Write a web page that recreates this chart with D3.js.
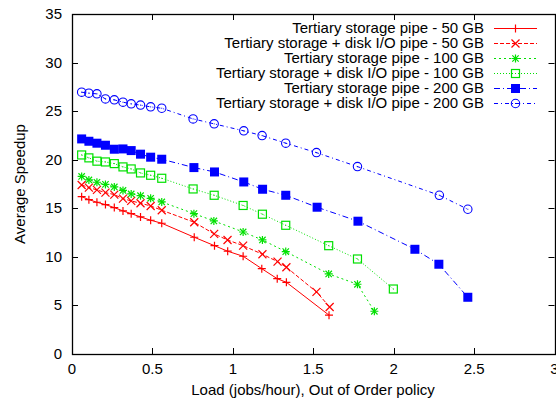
<!DOCTYPE html>
<html>
<head>
<meta charset="utf-8">
<script src="https://cdn.jsdelivr.net/npm/d3@7"></script>
<style>
  body { margin: 0; background: #fff; }
  svg { font-family: "Liberation Sans", Arial, sans-serif; }
</style>
</head>
<body>
<div id="chart"></div>
<script>
// series names
var names = [
  'Tertiary storage pipe - 50 GB',
  'Tertiary storage + disk I/O pipe - 50 GB',
  'Tertiary storage pipe - 100 GB',
  'Tertiary storage + disk I/O pipe - 100 GB',
  'Tertiary storage pipe - 200 GB',
  'Tertiary storage + disk I/O pipe - 200 GB'
];

var loadsEarly = [0.06, 0.105, 0.155, 0.208, 0.263, 0.317, 0.368, 0.426, 0.489, 0.558];

var tp50x  = loadsEarly.concat([0.76, 0.886, 0.968, 1.064, 1.18, 1.276, 1.333, 1.598]);
var tp50y  = [16.2, 15.89, 15.62, 15.38, 15.07, 14.73, 14.45, 14.11, 13.77, 13.46,
              12.02, 11.15, 10.58, 10.06, 8.78, 7.75, 7.38, 4.0];

var dk50x  = loadsEarly.concat([0.76, 0.884, 0.967, 1.064, 1.184, 1.278, 1.333, 1.52, 1.602]);
var dk50y  = [17.4, 17.13, 16.89, 16.61, 16.41, 15.99, 15.76, 15.52, 15.24, 14.8,
              13.56, 12.36, 11.74, 11.15, 10.27, 9.51, 8.93, 6.39, 4.84];

var tp100x = loadsEarly.concat([0.758, 0.882, 1.064, 1.184, 1.329, 1.596, 1.775, 1.88]);
var tp100y = [18.28, 17.92, 17.68, 17.46, 17.2, 16.84, 16.48, 16.3, 16.03, 15.65,
              14.45, 13.7, 12.56, 11.74, 10.54, 8.24, 7.18, 4.4];

var dk100x = loadsEarly.concat([0.753, 0.884, 1.064, 1.184, 1.329, 1.596, 1.775, 1.998]);
var dk100y = [20.49, 20.19, 19.85, 19.77, 19.6, 19.26, 19.05, 18.64, 18.4, 18.09,
              16.99, 16.34, 15.29, 14.39, 13.25, 11.15, 9.78, 6.69];

var tp200x = loadsEarly.concat([0.758, 0.886, 1.068, 1.185, 1.329, 1.524, 1.778, 2.132, 2.281, 2.461]);
var tp200y = [22.14, 21.9, 21.7, 21.49, 21.08, 21.11, 20.94, 20.57, 20.26, 20.05,
              19.19, 18.74, 17.71, 16.96, 16.34, 15.11, 13.67, 10.78, 9.24, 5.84];

var dk200x = loadsEarly.concat([0.753, 0.884, 1.068, 1.182, 1.329, 1.52, 1.775, 2.284, 2.461]);
var dk200y = [26.95, 26.85, 26.78, 26.26, 26.16, 25.92, 25.75, 25.62, 25.44, 25.3,
              24.2, 23.69, 22.97, 22.48, 21.7, 20.73, 19.29, 16.34, 14.9];

var xTicks = [0, 0.5, 1, 1.5, 2, 2.5, 3];
var yTicks = [0, 5, 10, 15, 20, 25, 30, 35];

var styles = [
  {color: '#ff0000', dash: null,       mark: 'plus'},
  {color: '#ff0000', dash: '4,2',      mark: 'cross'},
  {color: '#00e000', dash: '2,3',      mark: 'star'},
  {color: '#00e000', dash: '1,2',      mark: 'osquare'},
  {color: '#0000ff', dash: '6,3,1,3',  mark: 'fsquare'},
  {color: '#0000ff', dash: '4,3,1,3',  mark: 'ocircle'}
];

var seriesX = [tp50x, dk50x, tp100x, dk100x, tp200x, dk200x];
var seriesY = [tp50y, dk50y, tp100y, dk100y, tp200y, dk200y];

var W = 556, H = 400, fs = 15,
    margin = {top: 14, left: 72, right: 1, bottom: 46};

var svg = d3.select('#chart').append('svg')
    .attr('width', W).attr('height', H);

var x = d3.scaleLinear().domain([0, 3]).range([margin.left, W - margin.right - 0.5]);
var y = d3.scaleLinear().domain([0, 35]).range([H - margin.bottom, margin.top]);

// markers
function drawMark(g, type, cx, cy, color) {
  var s = 4;
  if (type === 'plus' || type === 'star') {
    g.append('path').attr('d', 'M' + (cx - s) + ',' + cy + 'H' + (cx + s) + 'M' + cx + ',' + (cy - s) + 'V' + (cy + s))
      .attr('stroke', color).attr('stroke-width', 1.2).attr('fill', 'none');
  }
  if (type === 'cross' || type === 'star') {
    var t = type === 'star' ? 3.2 : 4;
    g.append('path').attr('d', 'M' + (cx - t) + ',' + (cy - t) + 'L' + (cx + t) + ',' + (cy + t) +
        'M' + (cx - t) + ',' + (cy + t) + 'L' + (cx + t) + ',' + (cy - t))
      .attr('stroke', color).attr('stroke-width', 1.2).attr('fill', 'none');
  }
  if (type === 'osquare') {
    g.append('rect').attr('x', cx - 4).attr('y', cy - 4).attr('width', 8).attr('height', 8)
      .attr('stroke', color).attr('stroke-width', 1.2).attr('fill', 'none');
    g.append('rect').attr('x', cx - 0.5).attr('y', cy - 0.5).attr('width', 1).attr('height', 1).attr('fill', color);
  }
  if (type === 'fsquare') {
    g.append('rect').attr('x', cx - 4.5).attr('y', cy - 4.5).attr('width', 9).attr('height', 9)
      .attr('fill', color);
  }
  if (type === 'ocircle') {
    g.append('circle').attr('cx', cx).attr('cy', cy).attr('r', 4.2)
      .attr('stroke', color).attr('stroke-width', 1.1).attr('fill', 'none');
    g.append('rect').attr('x', cx - 0.5).attr('y', cy - 0.5).attr('width', 1).attr('height', 1).attr('fill', color);
  }
}

// frame and ticks
var frame = svg.append('g');
var x0 = x(0), x1 = x(3), y0 = y(0), y1 = y(35), tl = 6;

xTicks.forEach(function(v){
  var px = Math.round(x(v)) + 0.5;
  if (v > 0 && v < 3) {
    frame.append('line').attr('x1', px).attr('x2', px).attr('y1', y0).attr('y2', y0 - tl).attr('stroke', '#000');
    frame.append('line').attr('x1', px).attr('x2', px).attr('y1', y1).attr('y2', y1 + tl).attr('stroke', '#000');
  }
  frame.append('text').attr('x', x(v)).attr('y', y0 + 20)
    .attr('text-anchor', 'middle').attr('font-size', fs).attr('fill', '#000').text(v);
});
yTicks.forEach(function(v){
  var py = Math.round(y(v)) + 0.5;
  if (v > 0 && v < 35) {
    frame.append('line').attr('x1', x0).attr('x2', x0 + tl).attr('y1', py).attr('y2', py).attr('stroke', '#000');
    frame.append('line').attr('x1', x1).attr('x2', x1 - tl).attr('y1', py).attr('y2', py).attr('stroke', '#000');
  }
  frame.append('text').attr('x', x0 - 10).attr('y', y(v) + 5)
    .attr('text-anchor', 'end').attr('font-size', fs).attr('fill', '#000').text(v);
});

frame.append('rect')
  .attr('x', Math.round(x0) + 0.5).attr('y', Math.round(y1) + 0.5)
  .attr('width', Math.round(x1 - x0)).attr('height', Math.round(y0 - y1))
  .attr('fill', 'none').attr('stroke', '#000').attr('stroke-width', 1.3);

// axis titles
svg.append('text').attr('x', 313).attr('y', 395)
  .attr('text-anchor', 'middle').attr('font-size', fs).attr('fill', '#000')
  .text('Load (jobs/hour), Out of Order policy');
svg.append('text').attr('transform', 'translate(25,184) rotate(-90)')
  .attr('text-anchor', 'middle').attr('font-size', fs).attr('fill', '#000')
  .text('Average Speedup');

// series
var line = d3.line().x(function(d){ return x(d[0]); }).y(function(d){ return y(d[1]); });
var plot = svg.append('g');

seriesX.forEach(function(xs, i){
  var pts = xs.map(function(v, j){ return [v, seriesY[i][j]]; });
  var st = styles[i];
  plot.append('path').datum(pts).attr('d', line)
    .attr('fill', 'none').attr('stroke', st.color).attr('stroke-width', 1)
    .attr('stroke-dasharray', st.dash);
  var mg = plot.append('g');
  pts.forEach(function(p){ drawMark(mg, st.mark, x(p[0]), y(p[1]), st.color); });
});

// legend
var leg = svg.append('g');
names.forEach(function(n, i){
  var ly = 28 + i * 15;
  var st = styles[i];
  leg.append('text').attr('x', 484).attr('y', ly + 5)
    .attr('text-anchor', 'end').attr('font-size', fs).attr('fill', '#000').text(n);
  leg.append('line').attr('x1', 494).attr('x2', 537).attr('y1', ly + 0.5).attr('y2', ly + 0.5)
    .attr('stroke', st.color).attr('stroke-width', 1).attr('stroke-dasharray', st.dash);
  drawMark(leg, st.mark, 515.5, ly + 0.5, st.color);
});
</script>
</body>
</html>
